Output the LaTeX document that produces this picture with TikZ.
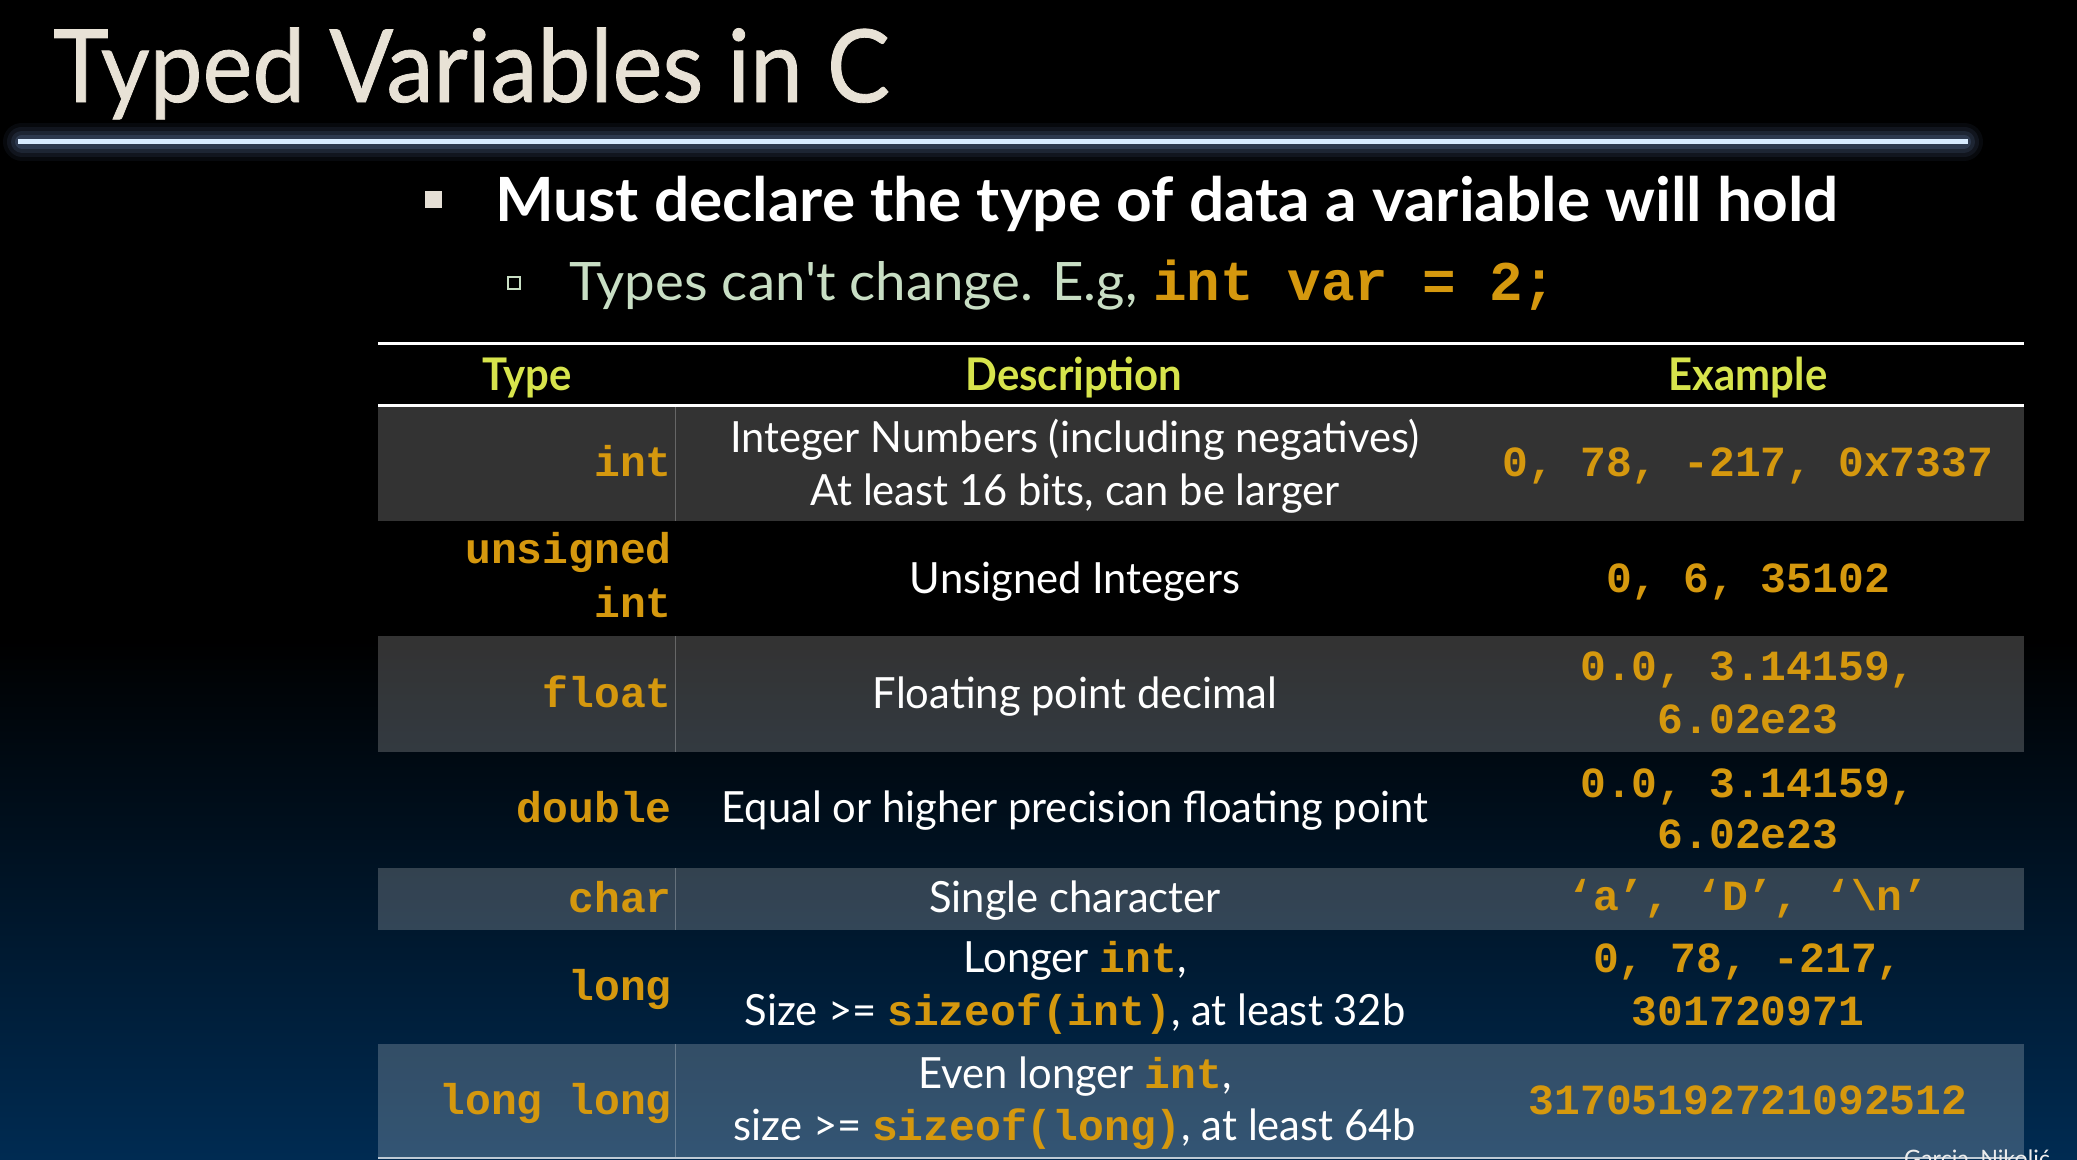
\documentclass[tikz,border=0pt]{standalone}
\usepackage{fontspec}
\usepackage{xcolor}
\setmainfont{Lato}
\newfontfamily\titlefont{Lato}[FakeStretch=0.935, FakeBold=0.8]
\newfontfamily\pointfont{Lato}[FakeStretch=1.02]
\newfontfamily\subfont{Lato}[FakeStretch=1.03]
\newfontfamily\headfont{Lato}[FakeStretch=0.93]
\newfontfamily\bodyfont{Lato}[FakeStretch=0.97]
\newfontfamily\codefont{Liberation Mono}
\usetikzlibrary{positioning}

\definecolor{titlecol}{RGB}{232,226,214}
\definecolor{bulletcol}{RGB}{229,223,213}
\definecolor{subcol}{RGB}{200,222,196}
\definecolor{codecol}{RGB}{213,152,14}
\definecolor{headcol}{RGB}{215,228,76}
\definecolor{glowcore}{RGB}{215,235,255}
\definecolor{glowhalo}{RGB}{75,95,130}
\definecolor{deepblue}{RGB}{0,43,82}

\newcommand{\kw}[1]{{\codefont\bfseries\color{codecol}#1}}

\tikzset{
    typecell/.style={anchor=base east, inner sep=0pt, text=codecol,
        font=\codefont\bfseries\fontsize{43}{53}\selectfont},
    desccell/.style={anchor=base, inner sep=0pt, text=white,
        font=\bodyfont\fontsize{43}{53}\selectfont},
    excell/.style={anchor=base, inner sep=0pt, text=codecol,
        font=\codefont\bfseries\fontsize{43}{53}\selectfont},
    headcell/.style={anchor=base, inner sep=0pt, text=headcol,
        font=\headfont\bfseries\fontsize{45}{54}\selectfont},
    shaderow/.style={fill=white, fill opacity=0.2},
}

\begin{document}
\begin{tikzpicture}[x=1pt, y=-1pt]
    \useasboundingbox (0,0) rectangle (2077,1159);
    % background
    \fill[black] (0,0) rectangle (2077,1159);
    \shade[top color=black, bottom color=deepblue] (0,640) rectangle (2077,1159);

    % title and glowing rule
    \node[anchor=base west, inner sep=0pt, text=titlecol,
        font=\titlefont\fontsize{101}{120}\selectfont] (title) at (53,102) {Typed Variables in C};
    \foreach \w/\o in {38/0.10, 30/0.15, 22/0.22, 14/0.35}
        \draw[glowhalo, line width=\w, opacity=\o, line cap=round] (22,141.5) -- (1964,141.5);
    \draw[glowcore, line width=5] (18,141.5) -- (1968,141.5);

    % bullets
    \node[fill=bulletcol, minimum size=17pt, inner sep=0pt] (dot1) at (433,199.5) {};
    \node[anchor=base west, inner sep=0pt, text=white,
        font=\pointfont\bfseries\fontsize{61}{72}\selectfont] (point1) at (495,221)
        {Must declare the type of data a variable will hold};
    \node[draw=subcol, line width=2pt, minimum size=12pt, inner sep=0pt] (dot2) at (513.5,283) {};
    \node[anchor=base west, inner sep=0pt, text=subcol,
        font=\subfont\fontsize{53}{64}\selectfont] (point2) at (569,300) {Types can't change. E.g,};
    \node[anchor=base west, inner sep=0pt, text=codecol,
        font=\codefont\bfseries\fontsize{56}{64}\selectfont] (point2code) at (1153,300) {int var = 2;};

    % table rows
    \foreach \t/\b in {407/521, 636/752, 868/930, 1044/1157} {
        \fill[shaderow] (378,\t) rectangle (2024,\b);
        \draw[white, opacity=0.25, line width=1] (675,\t) -- (675,\b);
    }
    \draw[white, line width=3] (378,343) -- (2024,343);
    \draw[white, line width=3] (378,405) -- (2024,405);
    \draw[white!75!deepblue, line width=2] (378,1158) -- (2024,1158);

    % header
    \node[headcell] (hType) at (527,390) {Type};
    \node[headcell] (hDesc) at (1074,390) {Description};
    \node[headcell] (hEx) at (1748,390) {Example};

    % int
    \node[typecell] (tInt) at (672,476) {int};
    \node[desccell] (dInt1) at (1075,452) {Integer Numbers (including negatives)};
    \node[desccell] (dInt2) at (1075,505) {At least 16 bits, can be larger};
    \node[excell] (eInt) at (1748,476) {0, 78, -217, 0x7337};
    % unsigned int
    \node[typecell] (tUns1) at (672,563) {unsigned};
    \node[typecell] (tUns2) at (672,617) {int};
    \node[desccell] (dUns) at (1075,593) {Unsigned Integers};
    \node[excell] (eUns) at (1748,592) {0, 6, 35102};
    % float
    \node[typecell] (tFlt) at (672,707) {float};
    \node[desccell] (dFlt) at (1075,708) {Floating point decimal};
    \node[excell] (eFlt1) at (1748,680) {0.0, 3.14159,};
    \node[excell] (eFlt2) at (1748,733) {6.02e23};
    % double
    \node[typecell] (tDbl) at (672,822) {double};
    \node[desccell] (dDbl) at (1075,822) {Equal or higher precision floating point};
    \node[excell] (eDbl1) at (1748,797) {0.0, 3.14159,};
    \node[excell] (eDbl2) at (1748,848) {6.02e23};
    % char
    \node[typecell] (tChr) at (672,912) {char};
    \node[desccell] (dChr) at (1075,912) {Single character};
    \node[excell] (eChr) at (1748,910) {‘a’, ‘D’, ‘\textbackslash n’};
    % long
    \node[typecell] (tLng) at (672,1000) {long};
    \node[desccell] (dLng1) at (1075,972) {Longer \kw{int},};
    \node[desccell] (dLng2) at (1075,1025) {Size >= \kw{sizeof(int)}, at least 32b};
    \node[excell] (eLng1) at (1748,972) {0, 78, -217,};
    \node[excell] (eLng2) at (1748,1025) {301720971};
    % long long
    \node[typecell] (tLL) at (672,1114) {long long};
    \node[desccell] (dLL1) at (1075,1088) {Even longer \kw{int},};
    \node[desccell] (dLL2) at (1075,1140) {size >= \kw{sizeof(long)}, at least 64b};
    \node[excell] (eLL) at (1748,1114) {31705192721092512};

    % footer, cut by the page edge as in the slide
    \node[anchor=base west, inner sep=0pt, text=white!85!gray,
        font=\bodyfont\fontsize{24}{28}\selectfont] (credit) at (1904,1167) {Garcia, Nikolić};
\end{tikzpicture}
\end{document}
